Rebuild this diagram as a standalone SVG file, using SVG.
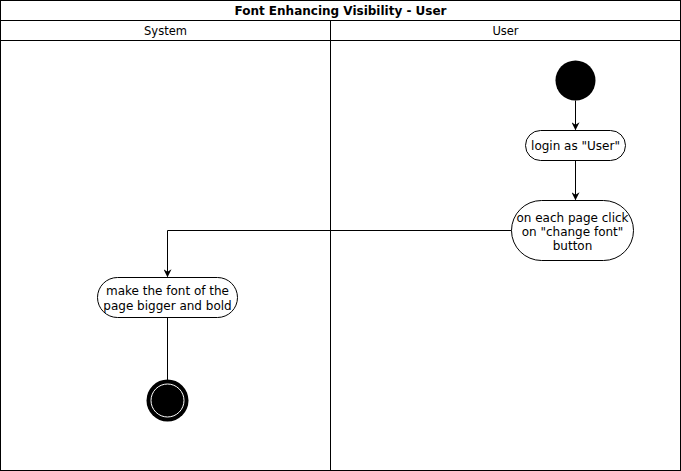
<svg xmlns="http://www.w3.org/2000/svg" width="681" height="471" viewBox="0 0 681 471">
<style>
text{font-family:"DejaVu Sans","Liberation Sans",sans-serif;font-size:12px;fill:#000;text-anchor:middle}
.t{font-weight:bold}
.h{font-size:11.5px}
.frame{fill:#fff;stroke:#000;stroke-width:1}
.act{fill:#fff;stroke:#000;stroke-width:1}
.edge{fill:none;stroke:#000;stroke-width:1}
</style>
<defs>
<marker id="arr" viewBox="0 0 10 10" refX="9" refY="5" markerWidth="8" markerHeight="8" orient="auto" markerUnits="userSpaceOnUse">
<path d="M0,0 L10,5 L0,10 L3,5 Z" fill="#000"/>
</marker>
</defs>
<g id="pool">
<rect class="frame" x="0.5" y="0.5" width="680" height="470"/>
<line class="edge" x1="0.5" y1="20.5" x2="680.5" y2="20.5"/>
<line class="edge" x1="0.5" y1="40.5" x2="680.5" y2="40.5"/>
<line class="edge" x1="330.5" y1="20.5" x2="330.5" y2="470.5"/>
<text class="t" x="340.5" y="15">Font Enhancing Visibility - User</text>
<text class="h" x="165.5" y="35">System</text>
<text class="h" x="505.5" y="35">User</text>
</g>
<g id="connectors">
<line class="edge" x1="575.5" y1="100.5" x2="575.5" y2="129.5" marker-end="url(#arr)"/>
<line class="edge" x1="575.5" y1="160.5" x2="575.5" y2="199.5" marker-end="url(#arr)"/>
<polyline class="edge" points="511.5,230.5 167.5,230.5 167.5,276.5" marker-end="url(#arr)"/>
<line class="edge" x1="167.5" y1="317.5" x2="167.5" y2="380"/>
</g>
<g id="start">
<circle cx="575.5" cy="80.5" r="20" fill="#000"/>
</g>
<g id="login">
<rect class="act" x="525.5" y="130.5" width="100" height="30" rx="15"/>
<text x="575.5" y="150">login as "User"</text>
</g>
<g id="changefont">
<rect class="act" x="511.5" y="200.5" width="122" height="60" rx="30"/>
<text x="572.5" y="222">on each page click</text>
<text x="572.5" y="236">on "change font"</text>
<text x="572.5" y="250">button</text>
</g>
<g id="makebig">
<rect class="act" x="97.5" y="277.5" width="140" height="40" rx="20"/>
<text x="167.5" y="295">make the font of the</text>
<text x="167.5" y="310">page bigger and bold</text>
</g>
<g id="end">
<circle cx="167.5" cy="400.5" r="21" fill="#000"/>
<circle cx="167.5" cy="400.5" r="16.5" fill="#000" stroke="#fff" stroke-width="1"/>
</g>
</svg>
